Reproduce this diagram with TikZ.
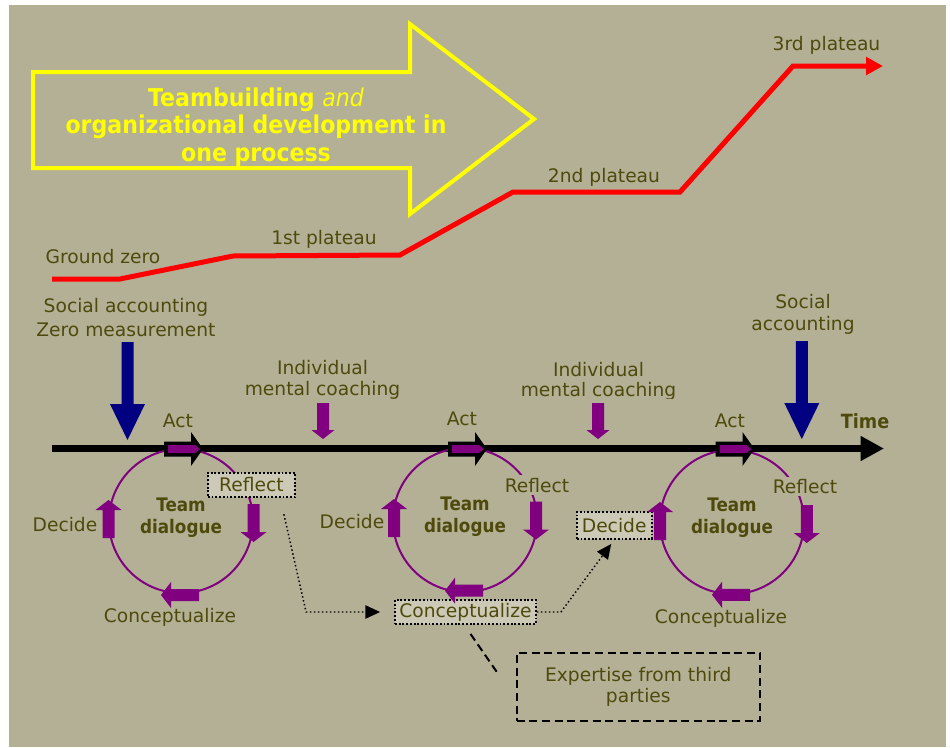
\documentclass[tikz,border=0pt]{standalone}
\usepackage{fontspec}
\setmainfont{DejaVu Sans}
\newfontfamily\condfont{DejaVu Sans}[FakeStretch=0.9]
\usetikzlibrary{arrows.meta,calc}

\definecolor{bg}{RGB}{179,176,150}
\definecolor{ink}{RGB}{78,74,12}
\definecolor{boxfill}{RGB}{204,202,182}
\definecolor{plum}{RGB}{128,0,128}
\definecolor{navyblue}{RGB}{0,0,128}
\definecolor{signal}{RGB}{255,0,0}
\definecolor{lemon}{RGB}{255,255,0}

\begin{document}
\begin{tikzpicture}[x=0.75pt,y=-0.75pt,
  txt/.style={text=ink,font=\fontsize{14}{17}\selectfont,inner sep=0pt,align=center},
  teamtxt/.style={text=ink,font=\condfont\bfseries\fontsize{14}{16.5}\selectfont,inner sep=0pt,align=center},
  covered/.style={txt,fill=bg,inner sep=2pt},
  dotbox/.style={txt,draw=black,fill=boxfill,line width=1.4pt,dash pattern=on 1.4pt off 1.4pt,inner sep=0pt},
  dashbox/.style={txt,draw=black,line width=1.5pt,dash pattern=on 6pt off 3.5pt,inner sep=0pt},
  dotline/.style={black,line width=1.1pt,dash pattern=on 1.1pt off 1.9pt},
  dashline/.style={black,line width=1.5pt,dash pattern=on 6pt off 3.5pt},
  tipA/.style={-{Triangle[length=11pt,width=10pt]}},
  pics/cyclearrow/.style={code={
    \fill[plum] (-19,-6) -- (9,-6) -- (9,-13) -- (19,0) -- (9,13) -- (9,6) -- (-19,6) -- cycle;}},
  pics/actarrow/.style={code={
    \fill[black] (0,-7.5) -- (27,-7.5) -- (27,-17) -- (39,0) -- (27,17) -- (27,7.5) -- (0,7.5) -- cycle;
    \fill[plum] (4,-4) -- (31,-4) -- (36,0) -- (31,4) -- (4,4) -- cycle;}},
  pics/bigdown/.style={code={
    \fill[navyblue] (-6,-98) -- (6,-98) -- (6,-36) -- (17.5,-36) -- (0,0) -- (-17.5,-36) -- (-6,-36) -- cycle;}},
  pics/smalldown/.style={code={
    \fill[plum] (-6,-36) -- (6,-36) -- (6,-9) -- (11.5,-9) -- (0,0) -- (-11.5,-9) -- (-6,-9) -- cycle;}}
]
\useasboundingbox (0,0) rectangle (950,747);
\fill[bg] (9,5) rectangle (946,747);

% headline arrow
\draw[lemon,line width=3pt,line join=miter]
  (33,72) -- (410,72) -- (410,24) -- (534,119) -- (410,214) -- (410,168) -- (33,168) -- cycle;
\node[anchor=base,text=lemon,align=center,inner sep=0pt,
      font=\condfont\bfseries\fontsize{18.4}{20.6}\selectfont] (title) at (256,161)
  {Teambuilding {\mdseries\itshape and}\\organizational development in\\one process};

% development curve
\coordinate (g0) at (52,279);
\coordinate (g1) at (120,279);
\coordinate (g2) at (233,256);
\coordinate (g3) at (400,255);
\coordinate (g4) at (513,192);
\coordinate (g5) at (680,192);
\coordinate (g6) at (793,66);
\coordinate (g7) at (883,66);
\draw[signal,line width=3.75pt,line join=miter,-{Triangle[length=12.75pt,width=13pt]}]
  (g0) -- (g1) -- (g2) -- (g3) -- (g4) -- (g5) -- (g6) -- (g7);

\node[txt,anchor=base] (gz) at (103,263.5) {Ground zero};
\node[txt,anchor=base] (p1) at (324,244) {1st plateau};
\node[txt,anchor=base] (p2) at (604,182.7) {2nd plateau};
\node[txt,anchor=base] (p3) at (826.5,50.7) {3rd plateau};

% measurements and coaching
\node[txt,anchor=base,font=\fontsize{14}{17.5}\selectfont] (sa1) at (126,336) {Social accounting\\Zero measurement};
\node[txt,anchor=base,font=\fontsize{14}{16}\selectfont] (sa2) at (803,330) {Social\\accounting};
\node[txt,anchor=base,font=\fontsize{14}{15.5}\selectfont] (mc1) at (322.5,395) {Individual\\mental coaching};
\begin{scope}
  \clip (500,340) rectangle (700,398.5);
  \node[txt,anchor=base,font=\fontsize{14}{15.5}\selectfont] (mc2) at (598.5,396.7) {Individual\\mental coaching};
\end{scope}

\pic at (127.5,440) {bigdown};
\pic at (801.8,439) {bigdown};
\pic at (323,439) {smalldown};
\pic at (598,439) {smalldown};

% time axis
\coordinate (t0) at (52,448.5);
\coordinate (t1) at (884,448.5);
\draw[black,line width=5.25pt,-{Triangle[length=17.5pt,width=17.6pt]}] (t0) -- (t1);
\node[anchor=base,text=ink,inner sep=0pt,font=\condfont\bfseries\fontsize{14.7}{17}\selectfont] (time) at (865,428) {Time};

% dialogue cycles
\draw[plum,line width=1.5pt] (181,521) circle[radius=72];
\draw[plum,line width=1.5pt] (465,520) circle[radius=72];
\draw[plum,line width=1.5pt] (732,522) circle[radius=72];

\node[txt,anchor=base] (a1) at (178,427.3) {Act};
\node[txt,anchor=base] (a2) at (462,425.7) {Act};
\node[txt,anchor=base] (a3) at (730,427.8) {Act};

\node[teamtxt,anchor=base] (td1) at (181,533.3) {Team\\dialogue};
\node[teamtxt,anchor=base] (td2) at (465,532.7) {Team\\dialogue};
\node[teamtxt,anchor=base] (td3) at (732,533.2) {Team\\dialogue};

\node[dotbox,minimum width=65.3pt,minimum height=18.5pt] (r1) at (251.4,485) {Reflect};
\node[covered,anchor=base] (r2) at (537,492.3) {Reflect};
\node[covered,anchor=base] (r3) at (805,493.5) {Reflect};

\node[txt,anchor=base] (d1) at (65,531) {Decide};
\node[txt,anchor=base] (d2) at (352,528.3) {Decide};
\node[dotbox,minimum width=56.1pt,minimum height=20.25pt] (d3) at (614.2,525.5) {Decide};

\node[txt,anchor=base] (c1) at (170,622) {Conceptualize};
\node[dotbox,minimum width=105.75pt,minimum height=18pt] (c2) at (465.5,612) {Conceptualize};
\node[txt,anchor=base] (c3) at (721,623.5) {Conceptualize};

\pic[rotate=-90] at (253.5,523) {cyclearrow};
\pic[rotate=90] at (108.5,519) {cyclearrow};
\pic[rotate=180] at (180,595) {cyclearrow};
\pic[rotate=-90] at (536,520.5) {cyclearrow};
\pic[rotate=90] at (394,518) {cyclearrow};
\pic[rotate=180] at (464,590.7) {cyclearrow};
\pic[rotate=-90] at (806.8,524) {cyclearrow};
\pic[rotate=90] at (660,521) {cyclearrow};
\pic[rotate=180] at (731,594.8) {cyclearrow};

\pic at (164,449) {actarrow};
\pic at (448,449) {actarrow};
\pic at (715.5,449) {actarrow};

% outside input
\node[dashbox,minimum width=182.5pt,minimum height=51.2pt,font=\fontsize{14}{15.5}\selectfont] (ex) at (638.3,686.8)
  {Expertise from third\\parties};

\draw[dotline,tipA] ($(r1.south east)+(-12,16)$) -- ($(c2.west)+(-88,0)$) -- ($(c2.west)+(-14,0)$);
\draw[dotline,tipA] (c2.east) -- ++(24,0) -- ($(d3.south)+(-3,4)$);
\draw[dashline] ($(c2.south)+(5,9)$) -- ($(ex.north west)+(-19,20)$);
\end{tikzpicture}
\end{document}
